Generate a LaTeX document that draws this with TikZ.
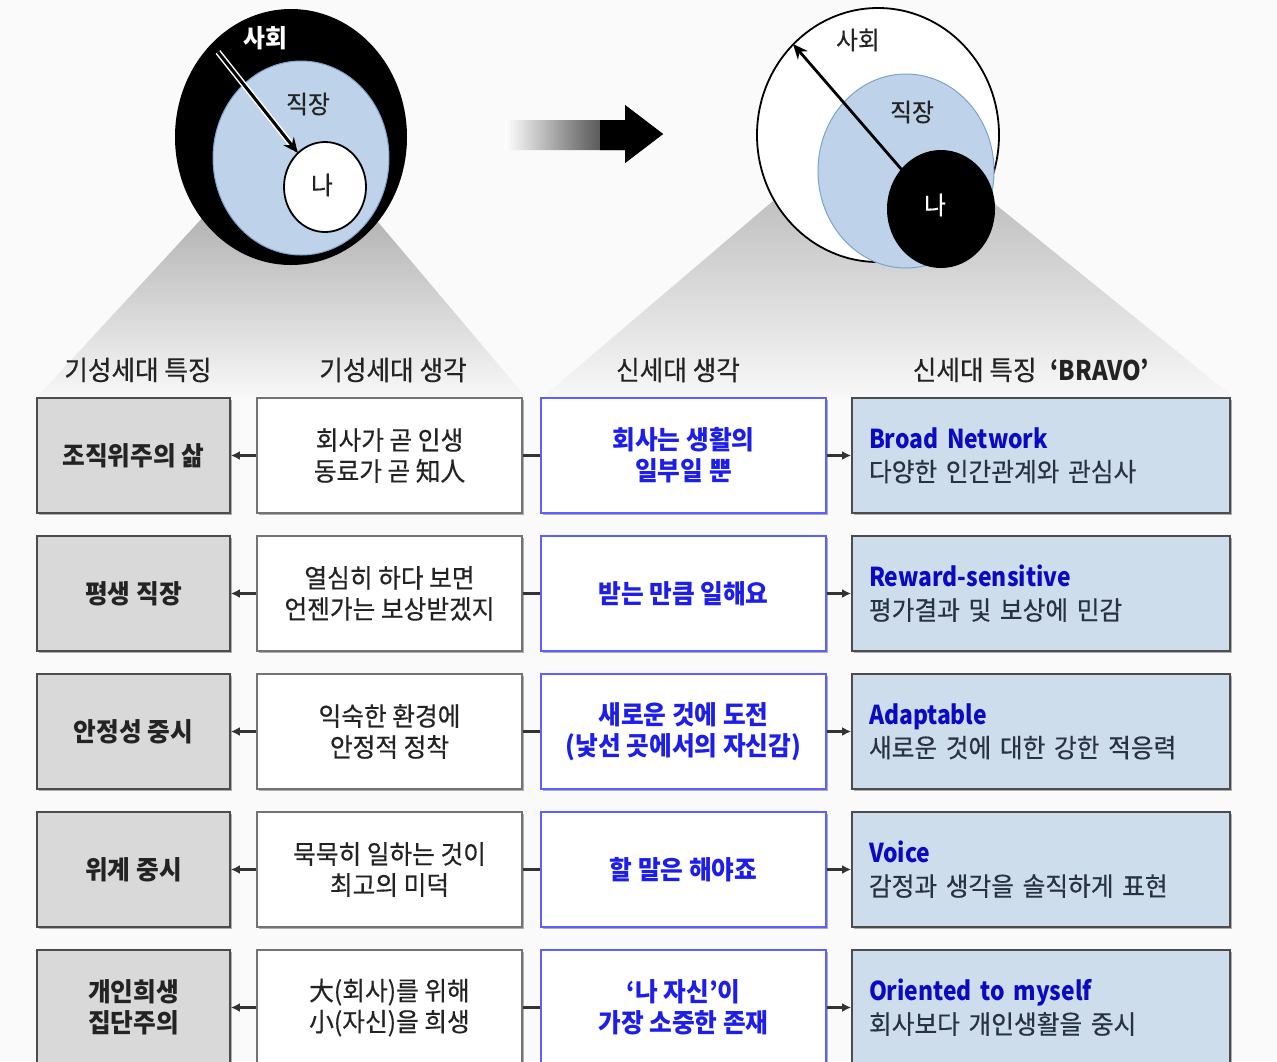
\documentclass[tikz,border=0pt]{standalone}
\usepackage{fontspec}
\setmainfont{Noto Sans CJK KR}[FakeStretch=0.95, UprightFeatures={FakeBold=0.4}]
\newfontfamily\lat{Noto Sans CJK KR}[FakeStretch=0.88]
\usetikzlibrary{arrows.meta,shadows}
\definecolor{bg}{RGB}{250,250,250}
\definecolor{blueF}{RGB}{190,211,234}
\definecolor{blueE}{RGB}{125,162,205}
\definecolor{cAfill}{RGB}{217,217,217}
\definecolor{cDfill}{RGB}{205,221,236}
\definecolor{cCline}{RGB}{95,95,255}
\definecolor{cCtext}{RGB}{30,30,235}
\definecolor{cDtitle}{RGB}{10,10,195}
\definecolor{cDsub}{RGB}{40,50,65}
\definecolor{txt}{RGB}{35,35,35}
\tikzset{
  bx/.style={rectangle, minimum height=115pt, inner sep=0pt, align=center,
    font=\fontsize{26}{31}\selectfont,
    drop shadow={shadow xshift=1.5pt, shadow yshift=-1.5pt, opacity=0.3, fill=black}},
  colA/.style={bx, minimum width=193pt, fill=cAfill, draw=black!70, line width=1.8pt,
    font=\bfseries\fontsize{26}{31}\selectfont, text=txt},
  colB/.style={bx, minimum width=265pt, fill=white, draw=black!55, line width=1.5pt, text=txt},
  colC/.style={bx, minimum width=285pt, fill=white, draw=cCline, line width=1.5pt,
    font=\bfseries\fontsize{26}{31}\selectfont, text=cCtext},
  colD/.style={bx, minimum width=378pt, fill=cDfill, draw=black!70, line width=1.8pt,
    text width=344pt, align=left, font=\fontsize{26}{33}\selectfont, text=cDsub},
  hdr/.style={font=\fontsize{27}{30}\selectfont, text=txt, inner sep=0pt},
  lbl/.style={font=\fontsize{25}{30}\selectfont, inner sep=0pt},
  conn/.style={draw=black!80, line width=2.5pt},
  tip/.style={-{Latex[length=9pt,width=9pt]}},
}
\newcommand{\ttl}[1]{{\lat\bfseries\color{cDtitle}#1}}
\begin{document}
\begin{tikzpicture}[x=1pt,y=-1pt]
\useasboundingbox (0,0) rectangle (1277,1061);
\fill[bg] (0,0) rectangle (1277,1061);

% projection fans
\shade[top color=black!30, bottom color=black!3]
  (205,215) -- (378,222) -- (525,396) -- (38,396) -- cycle;
\shade[top color=black!25, bottom color=black!3]
  (780,195) -- (990,200) -- (1232,396) -- (544,396) -- cycle;

% left circles
\fill[black] (291,137) ellipse [x radius=116, y radius=128];
\filldraw[fill=blueF, draw=blueE, line width=1pt] (301,158) ellipse [x radius=88, y radius=97];
\filldraw[fill=white, draw=black, line width=1.8pt] (325,187) ellipse [x radius=41, y radius=45];
\node[lbl, text=white, font=\bfseries\fontsize{25}{30}\selectfont] (soc1) at (265,38) {사회};
\node[lbl, text=txt] (job1) at (308,104) {직장};
\node[lbl, text=txt] (me1) at (322,185) {나};
\coordinate (a1s) at (218,52);
\coordinate (a1e) at (298,153);
\draw[white, line width=6pt, shorten >=4pt] (a1s) -- (a1e);
\draw[black, line width=3pt, -{Stealth[length=15pt,width=13pt]}] (a1s) -- (a1e);

% middle big arrow
\shade[left color=white, right color=black, middle color=black!55]
  (505,120) -- (625,120) -- (625,105) -- (663,134) -- (625,163) -- (625,150) -- (505,150) -- cycle;
\fill[black] (600,120) -- (625,120) -- (625,105) -- (663,134) -- (625,163) -- (625,150) -- (600,150) -- cycle;

% right circles
\filldraw[fill=white, draw=black, line width=1.8pt] (878,135) ellipse [x radius=121, y radius=127];
\filldraw[fill=blueF, draw=blueE, line width=1pt] (906,171) ellipse [x radius=88, y radius=97];
\fill[black] (941,209) ellipse [x radius=54, y radius=59];
\node[lbl, text=txt] (soc2) at (858,40) {사회};
\node[lbl, text=txt] (job2) at (912,112) {직장};
\node[lbl, text=white] (me2) at (935,205) {나};
\coordinate (a2s) at (902,170);
\coordinate (a2e) at (793,44);
\draw[black, line width=2.8pt, -{Stealth[length=15pt,width=13pt]}] (a2s) -- (a2e);

% headers
\node[hdr] (h1) at (138,370) {기성세대 특징};
\node[hdr] (h2) at (393,370) {기성세대 생각};
\node[hdr] (h3) at (678,370) {신세대 생각};
\node[hdr] (h4) at (1031,370) {신세대 특징\hspace{14pt}{\lat\bfseries ‘BRAVO’}};

% rows
\node[colA] (A1) at (133.5,455.5) {조직위주의 삶};
\node[colB] (B1) at (389.5,455.5) {회사가 곧 인생\\동료가 곧 知人};
\node[colC] (C1) at (683.5,455.5) {회사는 생활의\\일부일 뿐};
\node[colD] (D1) at (1041,455.5) {\ttl{Broad Network}\\다양한 인간관계와 관심사};

\node[colA] (A2) at (133.5,593.5) {평생 직장};
\node[colB] (B2) at (389.5,593.5) {열심히 하다 보면\\언젠가는 보상받겠지};
\node[colC] (C2) at (683.5,593.5) {받는 만큼 일해요};
\node[colD] (D2) at (1041,593.5) {\ttl{Reward-sensitive}\\평가결과 및 보상에 민감};

\node[colA] (A3) at (133.5,731.5) {안정성 중시};
\node[colB] (B3) at (389.5,731.5) {익숙한 환경에\\안정적 정착};
\node[colC] (C3) at (683.5,731.5) {새로운 것에 도전\\(낯선 곳에서의 자신감)};
\node[colD] (D3) at (1041,731.5) {\ttl{Adaptable}\\새로운 것에 대한 강한 적응력};

\node[colA] (A4) at (133.5,869.5) {위계 중시};
\node[colB] (B4) at (389.5,869.5) {묵묵히 일하는 것이\\최고의 미덕};
\node[colC] (C4) at (683.5,869.5) {할 말은 해야죠};
\node[colD] (D4) at (1041,869.5) {\ttl{Voice}\\감정과 생각을 솔직하게 표현};

\node[colA] (A5) at (133.5,1007.5) {개인희생\\집단주의};
\node[colB] (B5) at (389.5,1007.5) {大(회사)를 위해\\小(자신)을 희생};
\node[colC] (C5) at (683.5,1007.5) {‘나 자신’이\\가장 소중한 존재};
\node[colD] (D5) at (1041,1007.5) {\ttl{Oriented to myself}\\회사보다 개인생활을 중시};

\foreach \i in {1,...,5} {
  \draw[conn, tip] (B\i.west) -- (A\i.east);
  \draw[conn] (B\i.east) -- (C\i.west);
  \draw[conn, tip] (C\i.east) -- (D\i.west);
}
\end{tikzpicture}
\end{document}
